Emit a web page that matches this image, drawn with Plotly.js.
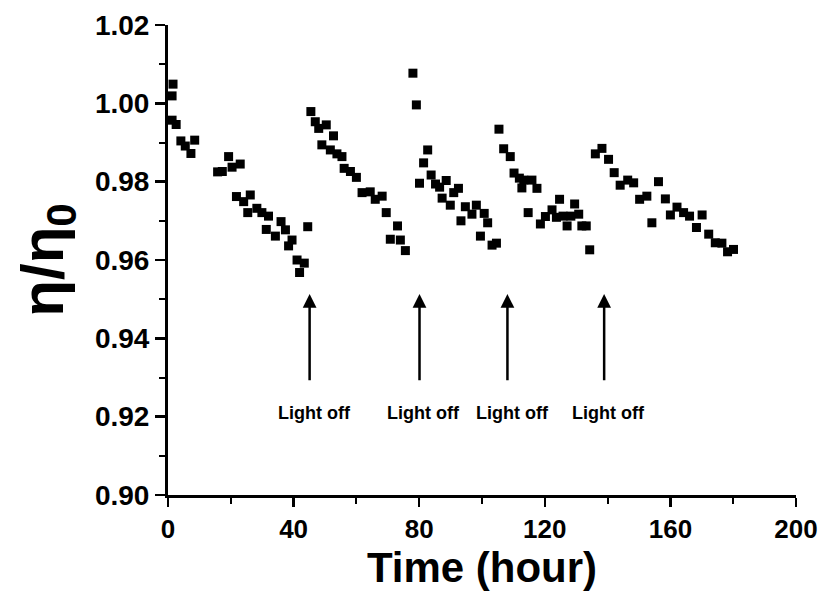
<!DOCTYPE html>
<html>
<head>
<meta charset="utf-8">
<script src="https://cdn.plot.ly/plotly-3.0.1.min.js"></script>
<style>html,body{margin:0;padding:0;background:#fff}#chart{width:825px;height:592px}</style>
</head>
<body>
<div id="chart"></div>
<script>
// Time (hour) and normalized efficiency eta/eta0
const timeHours = [
  1.6, 1.3, 1.3, 2.6, 4.1, 5.5, 7.3, 8.5,
  15.8, 17.3, 19.3, 20.4, 23.0, 21.8, 24.1, 26.2, 25.4, 28.3, 29.9, 32.0, 31.3, 34.2, 36.0, 37.4, 39.5, 38.4, 41.1, 43.4, 41.9, 44.5,
  45.5, 46.9, 48.0, 50.4, 52.7, 49.0, 51.7, 53.8, 55.4, 56.1, 58.1, 60.0, 61.8, 64.4, 66.0, 68.2, 69.5, 73.1, 70.8, 74.0, 75.6,
  78.0, 79.1, 82.7, 81.4, 80.1, 83.8, 85.2, 86.5, 88.6, 87.3, 89.9, 91.0, 92.5, 93.3, 94.7, 96.8, 98.2, 100.7, 101.8, 99.5, 103.2, 104.6,
  105.4, 106.9, 109.0, 110.2, 111.9, 113.3, 112.7, 115.9, 117.5, 114.7, 118.6, 120.2, 122.3, 124.7, 123.7, 125.8, 127.1, 128.3, 129.5, 130.8, 131.8, 133.2, 134.3,
  136.1, 138.2, 140.3, 142.1, 144.0, 146.4, 148.3, 150.2, 152.5, 154.1, 156.2, 158.4, 160.0, 162.1, 164.2, 166.1, 170.1, 168.3, 172.2, 174.3, 176.4, 178.2, 180.1
];
const efficiencyRatio = [
  1.0049, 1.0019, 0.9957, 0.9946, 0.9904, 0.9891, 0.9872, 0.9906,
  0.9825, 0.9826, 0.9864, 0.9837, 0.9845, 0.9762, 0.9749, 0.9766, 0.9721, 0.9732, 0.9721, 0.9712, 0.9678, 0.9661, 0.9698, 0.9677, 0.9651, 0.9636, 0.9600, 0.9592, 0.9568, 0.9685,
  0.9979, 0.9953, 0.9936, 0.9945, 0.9917, 0.9894, 0.9881, 0.9871, 0.9864, 0.9834, 0.9826, 0.9811, 0.9772, 0.9774, 0.9755, 0.9763, 0.9721, 0.9687, 0.9653, 0.9651, 0.9624,
  1.0077, 0.9996, 0.9881, 0.9848, 0.9796, 0.9817, 0.9794, 0.9786, 0.9803, 0.9758, 0.9740, 0.9772, 0.9783, 0.9700, 0.9736, 0.9717, 0.9740, 0.9719, 0.9695, 0.9661, 0.9638, 0.9643,
  0.9934, 0.9884, 0.9864, 0.9822, 0.9809, 0.9804, 0.9784, 0.9804, 0.9783, 0.9721, 0.9692, 0.9711, 0.9728, 0.9755, 0.9709, 0.9712, 0.9687, 0.9712, 0.9743, 0.9717, 0.9687, 0.9687, 0.9626,
  0.9871, 0.9885, 0.9857, 0.9823, 0.9791, 0.9804, 0.9797, 0.9755, 0.9763, 0.9695, 0.9800, 0.9756, 0.9715, 0.9735, 0.9721, 0.9712, 0.9715, 0.9683, 0.9666, 0.9644, 0.9643, 0.9621, 0.9627
];
// "Light off" events (hour)
const lightOffTimes = [45.1, 80.1, 108.1, 138.9];
const lightOffLabel = "Light off";
const arrowTip = 0.9513, arrowTail = 0.9289, labelLevel = 0.9209;
const labelOffsets = [1.5, 1.4, 1.5, 1.5];

const fontFam = '"Liberation Sans", Arial, sans-serif';

const trace = {
  x: timeHours, y: efficiencyRatio, type: 'scatter', mode: 'markers',
  marker: {symbol: 'square', size: 9, color: '#000'},
  showlegend: false, hoverinfo: 'skip'
};

const annotations = [];
lightOffTimes.forEach((t, i) => {
  annotations.push({
    x: t, y: arrowTip, xref: 'x', yref: 'y',
    ax: t, ay: arrowTail, axref: 'x', ayref: 'y',
    showarrow: true, arrowhead: 2, arrowsize: 1.1, arrowwidth: 2.5, arrowcolor: '#000', text: ''
  });
  annotations.push({
    x: t + labelOffsets[i], y: labelLevel, xref: 'x', yref: 'y',
    text: lightOffLabel, showarrow: false,
    font: {family: fontFam, size: 18, color: '#000', weight: 'bold'}
  });
});

const layout = {
  width: 825, height: 592,
  margin: {l: 168, r: 29, t: 25, b: 97, pad: 0},
  paper_bgcolor: '#fff', plot_bgcolor: '#fff',
  showlegend: false,
  xaxis: {
    range: [0, 200], dtick: 40, tick0: 0,
    showgrid: false, zeroline: false,
    showline: true, linecolor: '#000', linewidth: 3,
    ticks: 'outside', ticklen: 9, tickwidth: 2.5, tickcolor: '#000',
    minor: {dtick: 20, ticks: 'outside', ticklen: 6, tickwidth: 2, tickcolor: '#000'},
    tickfont: {family: fontFam, size: 26, color: '#000', weight: 'bold'},
    title: {text: 'Time (hour)', font: {family: fontFam, size: 42, color: '#000', weight: 'bold'}, standoff: 6}
  },
  yaxis: {
    range: [0.90, 1.02], dtick: 0.02, tick0: 0.9, tickformat: '.2f',
    showgrid: false, zeroline: false,
    showline: true, linecolor: '#000', linewidth: 3,
    ticks: 'outside', ticklen: 10, tickwidth: 2.5, tickcolor: '#000',
    minor: {dtick: 0.01, ticks: 'outside', ticklen: 6, tickwidth: 2, tickcolor: '#000'},
    tickfont: {family: fontFam, size: 28, color: '#000', weight: 'bold'},
    title: {text: 'η/η<sub>0</sub>', font: {family: fontFam, size: 60, color: '#000', weight: 'bold'}, standoff: 12}
  },
  annotations: annotations
};

Plotly.newPlot('chart', [trace], layout, {staticPlot: true, displayModeBar: false});
</script>
</body>
</html>
